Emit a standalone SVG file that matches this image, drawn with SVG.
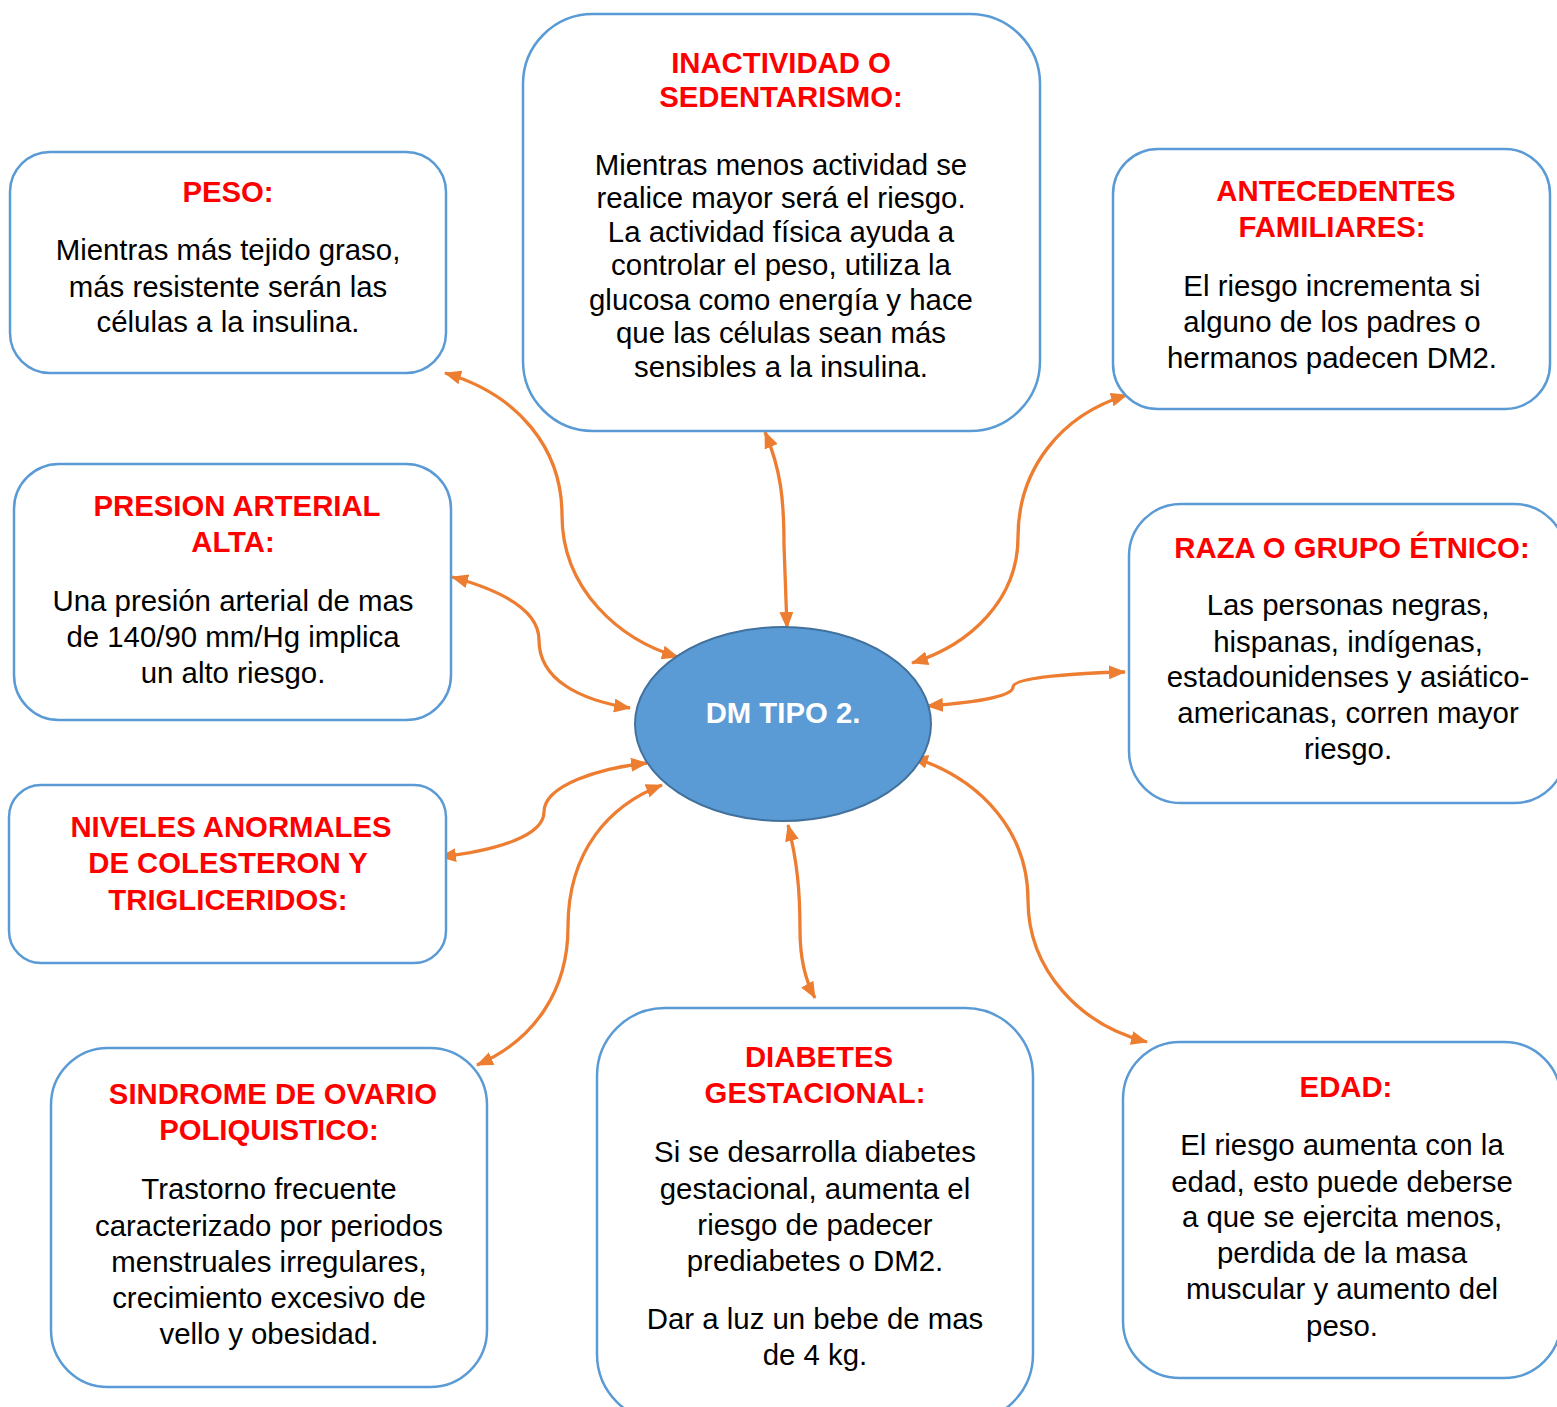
<svg xmlns="http://www.w3.org/2000/svg" width="1557" height="1407" viewBox="0 0 1557 1407">
<defs>
<style>
.box{fill:#FFFFFF;stroke:#5B9BD5;stroke-width:2.5}
.t{font-family:"Liberation Sans",Arial,sans-serif;font-size:29.3px;font-weight:bold;fill:#FF0000;text-anchor:middle}
.b{font-family:"Liberation Sans",Arial,sans-serif;font-size:29.4px;fill:#000000;text-anchor:middle}
.c{fill:none;stroke:#ED7D31;stroke-width:3.3;marker-start:url(#ah);marker-end:url(#ah)}
</style>
<marker id="ah" markerUnits="userSpaceOnUse" markerWidth="17" markerHeight="14" refX="16" refY="7" orient="auto-start-reverse">
<path d="M0,0 L17,7 L0,14 z" fill="#ED7D31"/>
</marker>
</defs>
<rect width="1557" height="1407" fill="#FFFFFF"/>

<g id="connectors">
<path class="c" d="M445,373 C520,395 562,450 562,515 C562,590 620,640 678,657"/>
<path class="c" d="M765,432 C781,470 784,500 784,545 L787,628"/>
<path class="c" d="M1127,395 C1060,415 1018,470 1018,537 C1018,600 970,645 912,663"/>
<path class="c" d="M452,577 C500,590 539,610 539,640 C539,680 580,700 630,708"/>
<path class="c" d="M927,706 C970,703 1013,697 1013,687 C1013,677 1080,673 1125,672"/>
<path class="c" d="M440,857 C500,850 544,835 544,812 C544,785 600,768 647,763"/>
<path class="c" d="M477,1065 C535,1040 568,990 568,927 C568,850 610,805 662,785"/>
<path class="c" d="M788,825 C797,860 800,890 800,930 C800,960 805,980 815,998"/>
<path class="c" d="M912,757 C985,780 1028,835 1028,900 C1028,970 1080,1025 1147,1042"/>
</g>

<g id="peso">
<rect class="box" x="10" y="152" width="436" height="221" rx="40" ry="40"/>
<text class="t" x="228" y="202">PESO:</text>
<text class="b" x="228" y="260">Mientras más tejido graso,</text>
<text class="b" x="228" y="297">más resistente serán las</text>
<text class="b" x="228" y="332">células a la insulina.</text>
</g>

<g id="inactividad">
<rect class="box" x="523" y="14" width="517" height="417" rx="70" ry="70"/>
<text class="t" x="781" y="73">INACTIVIDAD O</text>
<text class="t" x="781" y="107">SEDENTARISMO:</text>
<text class="b" x="781" y="175">Mientras menos actividad se</text>
<text class="b" x="781" y="208">realice mayor será el riesgo.</text>
<text class="b" x="781" y="242">La actividad física ayuda a</text>
<text class="b" x="781" y="275">controlar el peso, utiliza la</text>
<text class="b" x="781" y="310">glucosa como energía y hace</text>
<text class="b" x="781" y="343">que las células sean más</text>
<text class="b" x="781" y="377">sensibles a la insulina.</text>
</g>

<g id="antecedentes">
<rect class="box" x="1113" y="149" width="437" height="260" rx="45" ry="45"/>
<text class="t" x="1336" y="201">ANTECEDENTES</text>
<text class="t" x="1332" y="237">FAMILIARES:</text>
<text class="b" x="1332" y="296">El riesgo incrementa si</text>
<text class="b" x="1332" y="332">alguno de los padres o</text>
<text class="b" x="1332" y="368">hermanos padecen DM2.</text>
</g>

<g id="presion">
<rect class="box" x="14" y="464" width="437" height="256" rx="45" ry="45"/>
<text class="t" x="237" y="516">PRESION ARTERIAL</text>
<text class="t" x="233" y="552">ALTA:</text>
<text class="b" x="233" y="611">Una presión arterial de mas</text>
<text class="b" x="233" y="647">de 140/90 mm/Hg implica</text>
<text class="b" x="233" y="683">un alto riesgo.</text>
</g>

<g id="raza">
<rect class="box" x="1129" y="504" width="437" height="299" rx="52" ry="52"/>
<text class="t" x="1352" y="558">RAZA O GRUPO ÉTNICO:</text>
<text class="b" x="1348" y="615">Las personas negras,</text>
<text class="b" x="1348" y="652">hispanas, indígenas,</text>
<text class="b" x="1348" y="687">estadounidenses y asiático-</text>
<text class="b" x="1348" y="723">americanas, corren mayor</text>
<text class="b" x="1348" y="759">riesgo.</text>
</g>

<g id="niveles">
<rect class="box" x="9" y="785" width="437" height="178" rx="32" ry="32"/>
<text class="t" x="231" y="837">NIVELES ANORMALES</text>
<text class="t" x="228" y="873">DE COLESTERON Y</text>
<text class="t" x="228" y="910">TRIGLICERIDOS:</text>
</g>

<g id="sindrome">
<rect class="box" x="51" y="1048" width="436" height="339" rx="57" ry="57"/>
<text class="t" x="273" y="1104">SINDROME DE OVARIO</text>
<text class="t" x="269" y="1140">POLIQUISTICO:</text>
<text class="b" x="269" y="1199">Trastorno frecuente</text>
<text class="b" x="269" y="1236">caracterizado por periodos</text>
<text class="b" x="269" y="1272">menstruales irregulares,</text>
<text class="b" x="269" y="1308">crecimiento excesivo de</text>
<text class="b" x="269" y="1344">vello y obesidad.</text>
</g>

<g id="diabetes">
<rect class="box" x="597" y="1008" width="436" height="414" rx="68" ry="68"/>
<text class="t" x="819" y="1067">DIABETES</text>
<text class="t" x="815" y="1103">GESTACIONAL:</text>
<text class="b" x="815" y="1162">Si se desarrolla diabetes</text>
<text class="b" x="815" y="1199">gestacional, aumenta el</text>
<text class="b" x="815" y="1235">riesgo de padecer</text>
<text class="b" x="815" y="1271">prediabetes o DM2.</text>
<text class="b" x="815" y="1329">Dar a luz un bebe de mas</text>
<text class="b" x="815" y="1365">de 4 kg.</text>
</g>

<g id="edad">
<rect class="box" x="1123" y="1042" width="438" height="336" rx="57" ry="57"/>
<text class="t" x="1346" y="1097">EDAD:</text>
<text class="b" x="1342" y="1155">El riesgo aumenta con la</text>
<text class="b" x="1342" y="1192">edad, esto puede deberse</text>
<text class="b" x="1342" y="1227">a que se ejercita menos,</text>
<text class="b" x="1342" y="1263">perdida de la masa</text>
<text class="b" x="1342" y="1299">muscular y aumento del</text>
<text class="b" x="1342" y="1336">peso.</text>
</g>

<g id="dm-tipo-2">
<ellipse cx="783" cy="724" rx="148" ry="97" fill="#5B9BD5" stroke="#41719C" stroke-width="2"/>
<text x="783" y="723" style="font-family:'Liberation Sans',Arial,sans-serif;font-size:29.3px;font-weight:bold;fill:#FFFFFF;text-anchor:middle">DM TIPO 2.</text>
</g>
</svg>
